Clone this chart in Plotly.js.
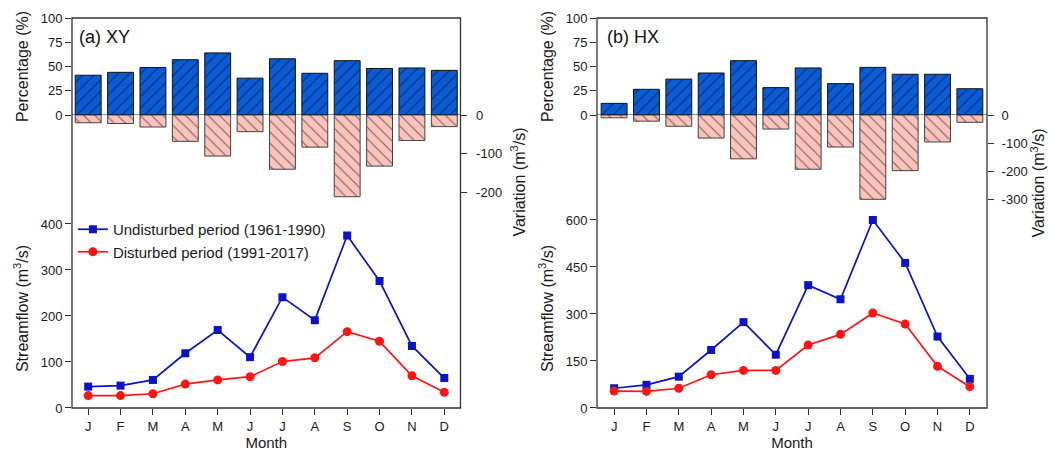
<!DOCTYPE html>
<html><head><meta charset="utf-8">
<script src="https://cdn.plot.ly/plotly-3.0.1.min.js"></script>
<style>html,body{margin:0;padding:0;background:#fff}</style>
</head><body><div id="chart" style="width:1050px;height:451px"></div>
<script>
// ---- data ----
const monthPos = [0,1,2,3,4,5,6,7,8,9,10,11];
const monthLabels = ['J','F','M','A','M','J','J','A','S','O','N','D'];

const xyPercentage = [41, 44, 49, 57, 64, 38, 58, 43, 56, 48, 48.5, 46];
const xyVariation  = [-20, -22, -31, -68, -106, -43, -140, -83, -211, -132, -66, -30];
const xyUndisturbed = [46.5, 48.7, 61, 119, 169.5, 110.5, 241, 191, 375, 276, 135, 65];
const xyDisturbed   = [27, 27, 31, 52, 61, 68, 101, 109, 166, 145, 70, 34];

const hxPercentage = [12, 26.5, 37, 43.3, 56, 28.2, 48.5, 32.3, 49.1, 42, 42, 27.1];
const hxVariation  = [-10, -22, -40, -82, -156, -50, -193, -114, -300, -198, -96, -26];
const hxUndisturbed = [63, 74, 100, 185, 274, 170, 392, 347, 600, 463, 228, 93];
const hxDisturbed   = [54, 53, 63, 106, 120, 120, 201, 235, 303, 268, 133, 68];

const pctTicks = [0,25,50,75,100];
const xyVarTicks = [0,-100,-200];
const xyVarLabels = ['0','-100','-200'];
const hxVarTicks = [0,-100,-200,-300];
const hxVarLabels = ['0','-100','-200','-300'];
const xyFlowTicks = [0,100,200,300,400];
const hxFlowTicks = [0,150,300,450,600];

// ---- styles ----
const FONT = 'Arial, "Liberation Sans", sans-serif';
const blueBar = '#0a5bd6', pinkBar = '#fbc3bb';
const lineBlue = '#0b13c9', lineRed = '#ff1414';

function pctBar(y, xa, ya) {
  return {type:'bar', x: monthPos, y: y, xaxis: xa, yaxis: ya, width: 0.8, showlegend:false,
    marker:{color: blueBar, line:{color:'#111', width:1},
      pattern:{shape:'/', fgcolor:'#000', size:8, solidity:0.14, fillmode:'overlay'}},
    hoverinfo:'y'};
}
function varBar(y, xa, ya) {
  return {type:'bar', x: monthPos, y: y, xaxis: xa, yaxis: ya, width: 0.8, showlegend:false,
    marker:{color: pinkBar, line:{color:'#444', width:1},
      pattern:{shape:'\\', fgcolor:'#000', size:8, solidity:0.14, fillmode:'overlay'}},
    hoverinfo:'y'};
}
function flowLine(y, xa, ya, name, color, symbol, size, show) {
  return {type:'scatter', mode:'lines+markers', x: monthPos, y: y, xaxis: xa, yaxis: ya,
    name: name, showlegend: show, line:{color: color, width:1.7},
    marker:{color: color, symbol: symbol, size: size}};
}

const data = [
  pctBar(xyPercentage, 'x', 'y'),
  varBar(xyVariation, 'x', 'y2'),
  flowLine(xyUndisturbed, 'x', 'y3', 'Undisturbed period (1961-1990)', lineBlue, 'square', 8, true),
  flowLine(xyDisturbed, 'x', 'y3', 'Disturbed period (1991-2017)', lineRed, 'circle', 9, true),
  pctBar(hxPercentage, 'x2', 'y4'),
  varBar(hxVariation, 'x2', 'y5'),
  flowLine(hxUndisturbed, 'x2', 'y6', 'Undisturbed period (1961-1990)', lineBlue, 'square', 8, false),
  flowLine(hxDisturbed, 'x2', 'y6', 'Disturbed period (1991-2017)', lineRed, 'circle', 9, false)
];

const tickFont = {family: FONT, size: 13, color:'#1a1a1a'};
const titleFont = {family: FONT, size: 16, color:'#1a1a1a'};
function yax(opts) {
  return Object.assign({showgrid:false, zeroline:false, showline:false, ticks:'outside', ticklen:6,
    tickwidth:1, tickcolor:'#333', tickfont: tickFont, automargin:false, fixedrange:true}, opts);
}
function xax(opts) {
  return Object.assign({showgrid:false, zeroline:false, showline:false, ticks:'outside', ticklen:6,
    tickwidth:1, tickcolor:'#333', tickfont: tickFont, automargin:false, fixedrange:true,
    ticklabelstandoff: 0, tickmode:'array', tickvals: monthPos, ticktext: monthLabels,
    title:{text:'Month', font:{family: FONT, size: 15, color:'#1a1a1a'}, standoff: 5}}, opts);
}

const xA = [0, 0.42459], xB = [0.57377, 1];
const layout = {
  width:1050, height:451,
  margin:{l:72, r:63, t:18, b:43},
  paper_bgcolor:'#fff', plot_bgcolor:'rgba(0,0,0,0)',
  font:{family: FONT, color:'#1a1a1a'},
  bargap:0.2,
  xaxis: xax({domain: xA, anchor:'y3', range:[-0.5, 11.5]}),
  xaxis2: xax({domain: xB, anchor:'y6', range:[-0.53, 11.53]}),
  yaxis: yax({domain:[0.75128, 1], range:[0,100], anchor:'x', tickmode:'array', tickvals: pctTicks,
    title:{text:'Percentage (%)', font: titleFont, standoff: 8}}),
  yaxis2: yax({domain:[0.40769, 0.75128], range:[-346,0], anchor:'x', side:'right', tickmode:'array',
    tickvals: xyVarTicks, ticktext: xyVarLabels, ticklabelstandoff: 6,
    title:{text:'Variation (m<sup>3</sup>/s)', font: titleFont, standoff: 12}}),
  yaxis3: yax({domain:[0, 0.51026], range:[0,432.6], anchor:'x', tickmode:'array', tickvals: xyFlowTicks,
    title:{text:'Streamflow (m<sup>3</sup>/s)', font: titleFont, standoff: 8}}),
  yaxis4: yax({domain:[0.75128, 1], range:[0,100], anchor:'x2', tickmode:'array', tickvals: pctTicks,
    title:{text:'Percentage (%)', font: titleFont, standoff: 8}}),
  yaxis5: yax({domain:[0.40256, 0.75128], range:[-484,0], anchor:'x2', side:'right', tickmode:'array',
    tickvals: hxVarTicks, ticktext: hxVarLabels, ticklabelstandoff: 5,
    title:{text:'Variation (m<sup>3</sup>/s)', font: titleFont, standoff: 6}}),
  yaxis6: yax({domain:[0, 0.51026], range:[0,635], anchor:'x2', tickmode:'array', tickvals: hxFlowTicks,
    title:{text:'Streamflow (m<sup>3</sup>/s)', font: titleFont, standoff: 8}}),
  legend:{x:0.001, y:0.5, xanchor:'left', yanchor:'top', bgcolor:'rgba(0,0,0,0)',
    font:{family: FONT, size:15, color:'#1a1a1a'}, tracegroupgap:0},
  shapes:[
    {type:'rect', xref:'paper', yref:'paper', x0:xA[0], x1:xA[1], y0:0, y1:1, line:{color:'#333', width:1.3}, layer:'above'},
    {type:'rect', xref:'paper', yref:'paper', x0:xB[0], x1:xB[1], y0:0, y1:1, line:{color:'#333', width:1.3}, layer:'above'},
    {type:'line', xref:'x', yref:'y', x0:-0.5, x1:11.5, y0:0, y1:0, line:{color:'#222', width:1.2}, layer:'above'},
    {type:'line', xref:'x2', yref:'y4', x0:-0.53, x1:11.53, y0:0, y1:0, line:{color:'#222', width:1.2}, layer:'above'}
  ],
  annotations:[
    {text:'(a) XY', xref:'paper', yref:'paper', x:0.0055, y:0.951, xanchor:'left', yanchor:'middle', showarrow:false,
      font:{family: FONT, size:18, color:'#111'}},
    {text:'(b) HX', xref:'paper', yref:'paper', x:0.582, y:0.951, xanchor:'left', yanchor:'middle', showarrow:false,
      font:{family: FONT, size:18, color:'#111'}}
  ]
};

Plotly.newPlot('chart', data, layout, {staticPlot:true, displayModeBar:false});
</script>
</body></html>
